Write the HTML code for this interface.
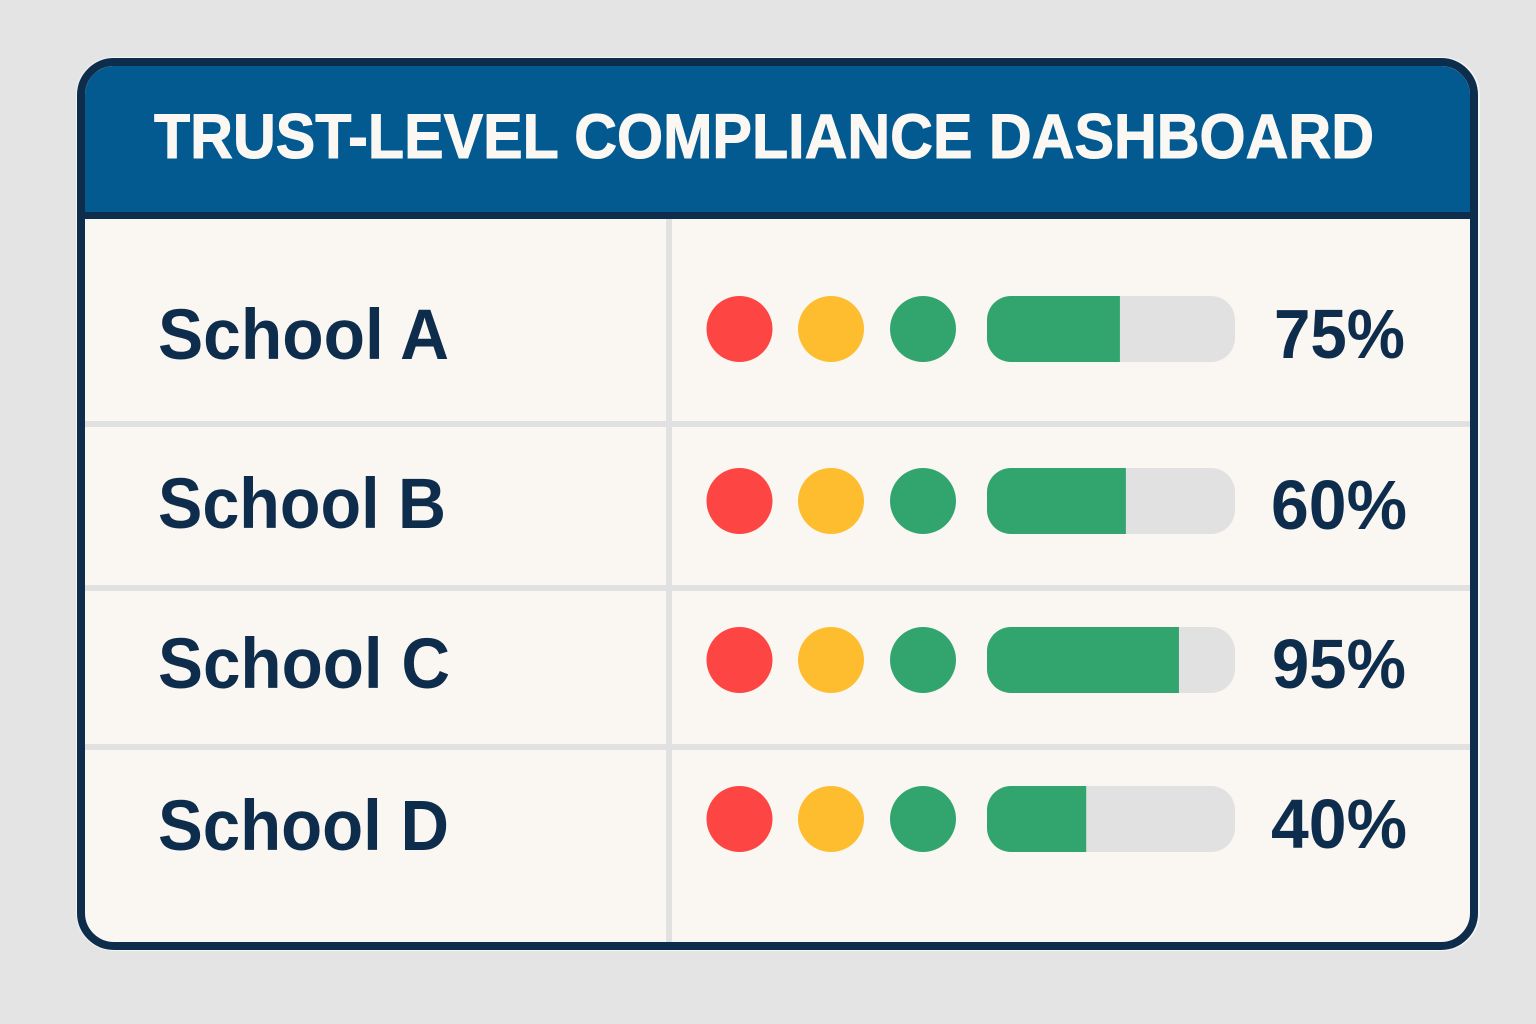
<!DOCTYPE html>
<html lang="en">
<head>
<meta charset="utf-8">
<title>Trust-Level Compliance Dashboard</title>
<style>
html,body{margin:0;padding:0;background:#e4e4e4;}
body{width:1536px;height:1024px;overflow:hidden;}
svg{display:block;}
text{font-family:"Liberation Sans",sans-serif;font-weight:700;}
</style>
</head>
<body>
<svg id="chart" xmlns="http://www.w3.org/2000/svg" width="1536" height="1024" viewBox="0 0 1536 1024">
  <rect x="0" y="0" width="1536" height="1024" fill="#e4e4e4"/>
  <rect x="76" y="57" width="1404" height="894" rx="38" fill="#f4f4f4"/>
  <rect x="81" y="62" width="1393" height="884" rx="33" fill="#faf6f1" stroke="#0e2d4c" stroke-width="8"/>
  <path d="M85 212 V95 A29 29 0 0 1 114 66 H1441 A29 29 0 0 1 1470 95 V212 Z" fill="#025a91"/>
  <rect x="78" y="212" width="1399" height="7" fill="#0e2d4c"/>
  <text x="154" y="158" font-size="63" fill="#fbf8f4" stroke="#fbf8f4" stroke-width="1" textLength="1220" lengthAdjust="spacingAndGlyphs">TRUST-LEVEL COMPLIANCE DASHBOARD</text>
  <rect x="666" y="219" width="6" height="723" fill="#e1e1e1"/>
  <g id="rows"></g>
</svg>
<script>
var schools = ['School A', 'School B', 'School C', 'School D'];
var printedPercent = ['75%', '60%', '95%', '40%'];
var barFill = [53.6, 56, 77.4, 40];
var statusColors = ['#fd4644', '#febc2f', '#32a56f'];

var NS = 'http://www.w3.org/2000/svg';
var rowsGroup = document.getElementById('rows');
var rowCenters = [329, 501, 660, 819];
var labelBaselines = [359, 528, 688, 850];
var valueBaselines = [358, 529, 688, 848];
var dividerTops = [421, 585, 744];
var labelWidths = [291, 288, 292, 291];
var valueWidths = [131, 136, 134, 136];
var valueLefts = [1274, 1271, 1272, 1271];
var dotCenters = [739.5, 831, 923];
var TRACK_X = 987;
var TRACK_W = 248;
var BAR_H = 66;

function xFromPercent(p) { return TRACK_X + TRACK_W * p / 100; }

function make(tag, attrs) {
  var el = document.createElementNS(NS, tag);
  for (var k in attrs) { el.setAttribute(k, attrs[k]); }
  return el;
}

dividerTops.forEach(function (y, i) {
  var line = make('rect', { x: 85, y: y, width: 1385, height: 6, fill: '#e1e1e1' });
  
  
  rowsGroup.appendChild(line);
});

schools.forEach(function (name, i) {
  var cy = rowCenters[i];
  var slug = name.toLowerCase().replace(' ', '-');

  var label = make('text', { x: 158, y: labelBaselines[i], 'font-size': 71, fill: '#0e2d4c', textLength: labelWidths[i], lengthAdjust: 'spacingAndGlyphs' });
  
  
  label.textContent = name;
  rowsGroup.appendChild(label);

  statusColors.forEach(function (color, j) {
    var dot = make('circle', { cx: dotCenters[j], cy: cy, r: 33, fill: color });
    
    
    rowsGroup.appendChild(dot);
  });

  var y = cy - BAR_H / 2;
  var track = make('rect', { x: TRACK_X, y: y, width: TRACK_W, height: BAR_H, rx: 24, fill: '#e1e1e1' });
  
  
  rowsGroup.appendChild(track);

  var xEnd = xFromPercent(barFill[i]);
  var r = 24;
  var d = 'M' + xEnd + ' ' + y + ' H' + (TRACK_X + r) +
          ' A' + r + ' ' + r + ' 0 0 0 ' + TRACK_X + ' ' + (y + r) +
          ' V' + (y + BAR_H - r) +
          ' A' + r + ' ' + r + ' 0 0 0 ' + (TRACK_X + r) + ' ' + (y + BAR_H) +
          ' H' + xEnd + ' Z';
  var fill = make('path', { d: d, fill: '#32a56f' });
  
  
  rowsGroup.appendChild(fill);

  var value = make('text', { x: valueLefts[i], y: valueBaselines[i], 'font-size': 70, fill: '#0e2d4c', textLength: valueWidths[i], lengthAdjust: 'spacingAndGlyphs' });
  
  
  value.textContent = printedPercent[i];
  rowsGroup.appendChild(value);
});
</script>
</body>
</html>
